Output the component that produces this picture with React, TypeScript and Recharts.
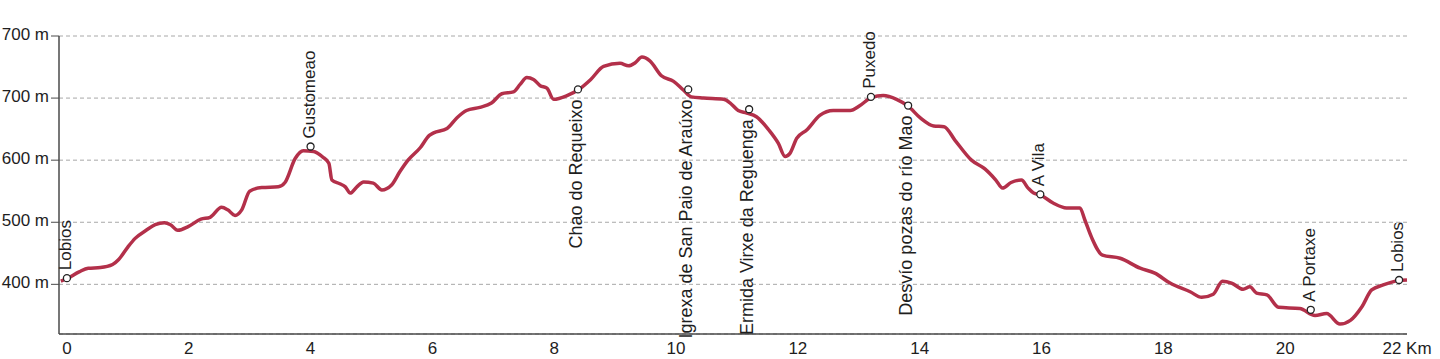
import React from 'react';
import { ComposedChart, Line, Scatter, XAxis, YAxis, CartesianGrid } from 'recharts';

// Elevation profile (distance in km, elevation in m)
const distanceKm = [
  -0.1, 0.0, 0.2, 0.35, 0.55, 0.75, 0.85, 1.0, 1.12, 1.3, 1.45, 1.6, 1.7, 1.82, 1.99,
  2.2, 2.35, 2.54, 2.64, 2.76, 2.87, 3.0, 3.2, 3.47, 3.58, 3.75, 3.88, 4.05, 4.2, 4.3,
  4.35, 4.48, 4.57, 4.65, 4.76, 4.87, 5.03, 5.17, 5.33, 5.47, 5.6, 5.8, 5.95, 6.02, 6.24,
  6.4, 6.56, 6.78, 6.97, 7.14, 7.33, 7.44, 7.55, 7.66, 7.77, 7.88, 7.99, 8.21, 8.42, 8.6,
  8.81, 9.08, 9.22, 9.33, 9.44, 9.57, 9.76, 9.96, 10.12, 10.25, 10.45, 10.78, 10.89, 11.02,
  11.16, 11.32, 11.52, 11.68, 11.79, 11.87, 11.98, 12.15, 12.36, 12.58, 12.86, 13.02, 13.21,
  13.4, 13.62, 13.81, 14.01, 14.23, 14.4, 14.58, 14.85, 15.07, 15.25, 15.36, 15.5, 15.67,
  15.78, 15.87, 15.98, 16.19, 16.41, 16.63, 16.71, 16.82, 17.0, 17.29, 17.62, 17.86, 18.11,
  18.44, 18.63, 18.82, 18.97, 19.12, 19.31, 19.42, 19.53, 19.7, 19.89, 20.24, 20.49, 20.68,
  20.9, 21.07, 21.26, 21.42, 21.61, 21.86, 22.0,
];
const elevationM = [
  405, 409, 420, 426, 427, 432, 440, 460, 474, 487, 496, 499, 496, 487, 493,
  505, 508, 524, 520, 511, 520, 550, 556, 557, 564, 603, 615, 614, 605, 595,
  568, 562, 557, 547, 557, 565, 563, 552, 560, 582, 600, 620, 640, 644, 651,
  668, 680, 685, 692, 707, 710, 722, 733, 730, 720, 716, 698, 704, 715, 730,
  751, 756, 752, 757, 766, 760, 736, 727, 713, 702, 700, 698, 692, 680,
  676, 670, 649, 627, 606, 611, 635, 649, 672, 680, 680, 688, 701,
  704, 698, 687, 668, 655, 654, 632, 600, 586, 568, 555, 564, 568,
  555, 547, 544, 531, 523, 523, 504, 476, 447, 442, 426, 418, 402,
  388, 379, 384, 405, 402, 392, 396, 386, 383, 363, 361, 350, 353,
  336, 342, 364, 391, 399, 406, 407,
];

// Waypoints
const waypointNames = [
  'Lobios', 'Gustomeao', 'Chao do Requeixo', 'Igrexa de San Paio de Araúxo',
  'Ermida Virxe da Reguenga', 'Puxedo', 'Desvío pozas do río Mao', 'A Vila', 'A Portaxe', 'Lobios',
];
const waypointKm = [0, 4.0, 8.39, 10.2, 11.2, 13.2, 13.81, 15.98, 20.42, 21.87];
const waypointM = [410, 622, 714, 714, 682, 702, 688, 545, 359, 407];
const waypointSide = ['up', 'up', 'down', 'down', 'down', 'up', 'down', 'up', 'up', 'up'];

const xTicks = [0, 2, 4, 6, 8, 10, 12, 14, 16, 18, 20, 22];
const yTicks = [400, 500, 600, 700, 800];
const yTickLabels = ['400 m', '500 m', '600 m', '700 m', '700 m'];

const profile = distanceKm.map((km, i) => ({ km, m: elevationM[i] }));
const waypoints = waypointNames.map((name, i) => ({
  km: waypointKm[i],
  m: waypointM[i],
  name,
  side: waypointSide[i],
}));

const FONT = '"Liberation Sans", Arial, Helvetica, sans-serif';
const TEXT = '#1e1e1e';
const AXIS = '#4a4a4a';

const WaypointShape = (props: any) => {
  const { cx, cy, payload } = props;
  if (cx == null || cy == null) return null;
  const up = payload.side === 'up';
  const tx = cx + 4;
  const ty = up ? cy - 8 : cy + 10;
  return (
    <g>
      <circle cx={cx} cy={cy} r={3.5} fill="#fff" stroke="#222" strokeWidth={1.3} />
      <text
        x={tx}
        y={ty}
        transform={`rotate(-90 ${tx} ${ty})`}
        textAnchor={up ? 'start' : 'end'}
        fontSize={up ? 17 : 18}
        fontFamily={FONT}
        fill={TEXT}
      >
        {payload.name}
      </text>
    </g>
  );
};

const YTick = (props: any) => {
  const { x, y, payload, index } = props;
  return (
    <text x={x} y={y - 2} dy="0.355em" textAnchor="end" fontSize={17} fontFamily={FONT} fill={TEXT}>
      {yTickLabels[index] ?? `${payload.value} m`}
    </text>
  );
};

const XTick = (props: any) => {
  const { x, y, payload } = props;
  const label = payload.value === 22 ? '22 Km' : String(payload.value);
  return (
    <text x={x} y={y} dy="0.71em" textAnchor="middle" fontSize={17} fontFamily={FONT} fill={TEXT}>
      {label}
    </text>
  );
};

export default function App() {
  return (
    <div style={{ position: 'absolute', left: 0, top: 0, width: 1440, height: 359, background: '#fff' }}>
      <ComposedChart
        width={1440}
        height={359}
        data={profile}
        margin={{ top: 36, right: 33, bottom: 0, left: 0 }}
      >
        <CartesianGrid vertical={false} stroke="#a8a8a8" strokeDasharray="4 3" />
        <XAxis
          dataKey="km"
          type="number"
          domain={[-0.13, 22]}
          ticks={xTicks}
          interval={0}
          height={25}
          tickLine={false}
          axisLine={{ stroke: AXIS, strokeWidth: 1.5 }}
          tick={<XTick />}
        />
        <YAxis
          type="number"
          domain={[320, 800]}
          ticks={yTicks}
          interval={0}
          width={59}
          tickSize={8}
          tickLine={{ stroke: AXIS }}
          axisLine={{ stroke: AXIS, strokeWidth: 1.5 }}
          tick={<YTick />}
        />
        <Line
          data={profile}
          dataKey="m"
          type="monotone"
          stroke="#b3304a"
          strokeWidth={3.5}
          dot={false}
          activeDot={false}
          isAnimationActive={false}
        />
        <Scatter
          data={waypoints}
          dataKey="m"
          shape={<WaypointShape />}
          isAnimationActive={false}
        />
      </ComposedChart>
    </div>
  );
}
